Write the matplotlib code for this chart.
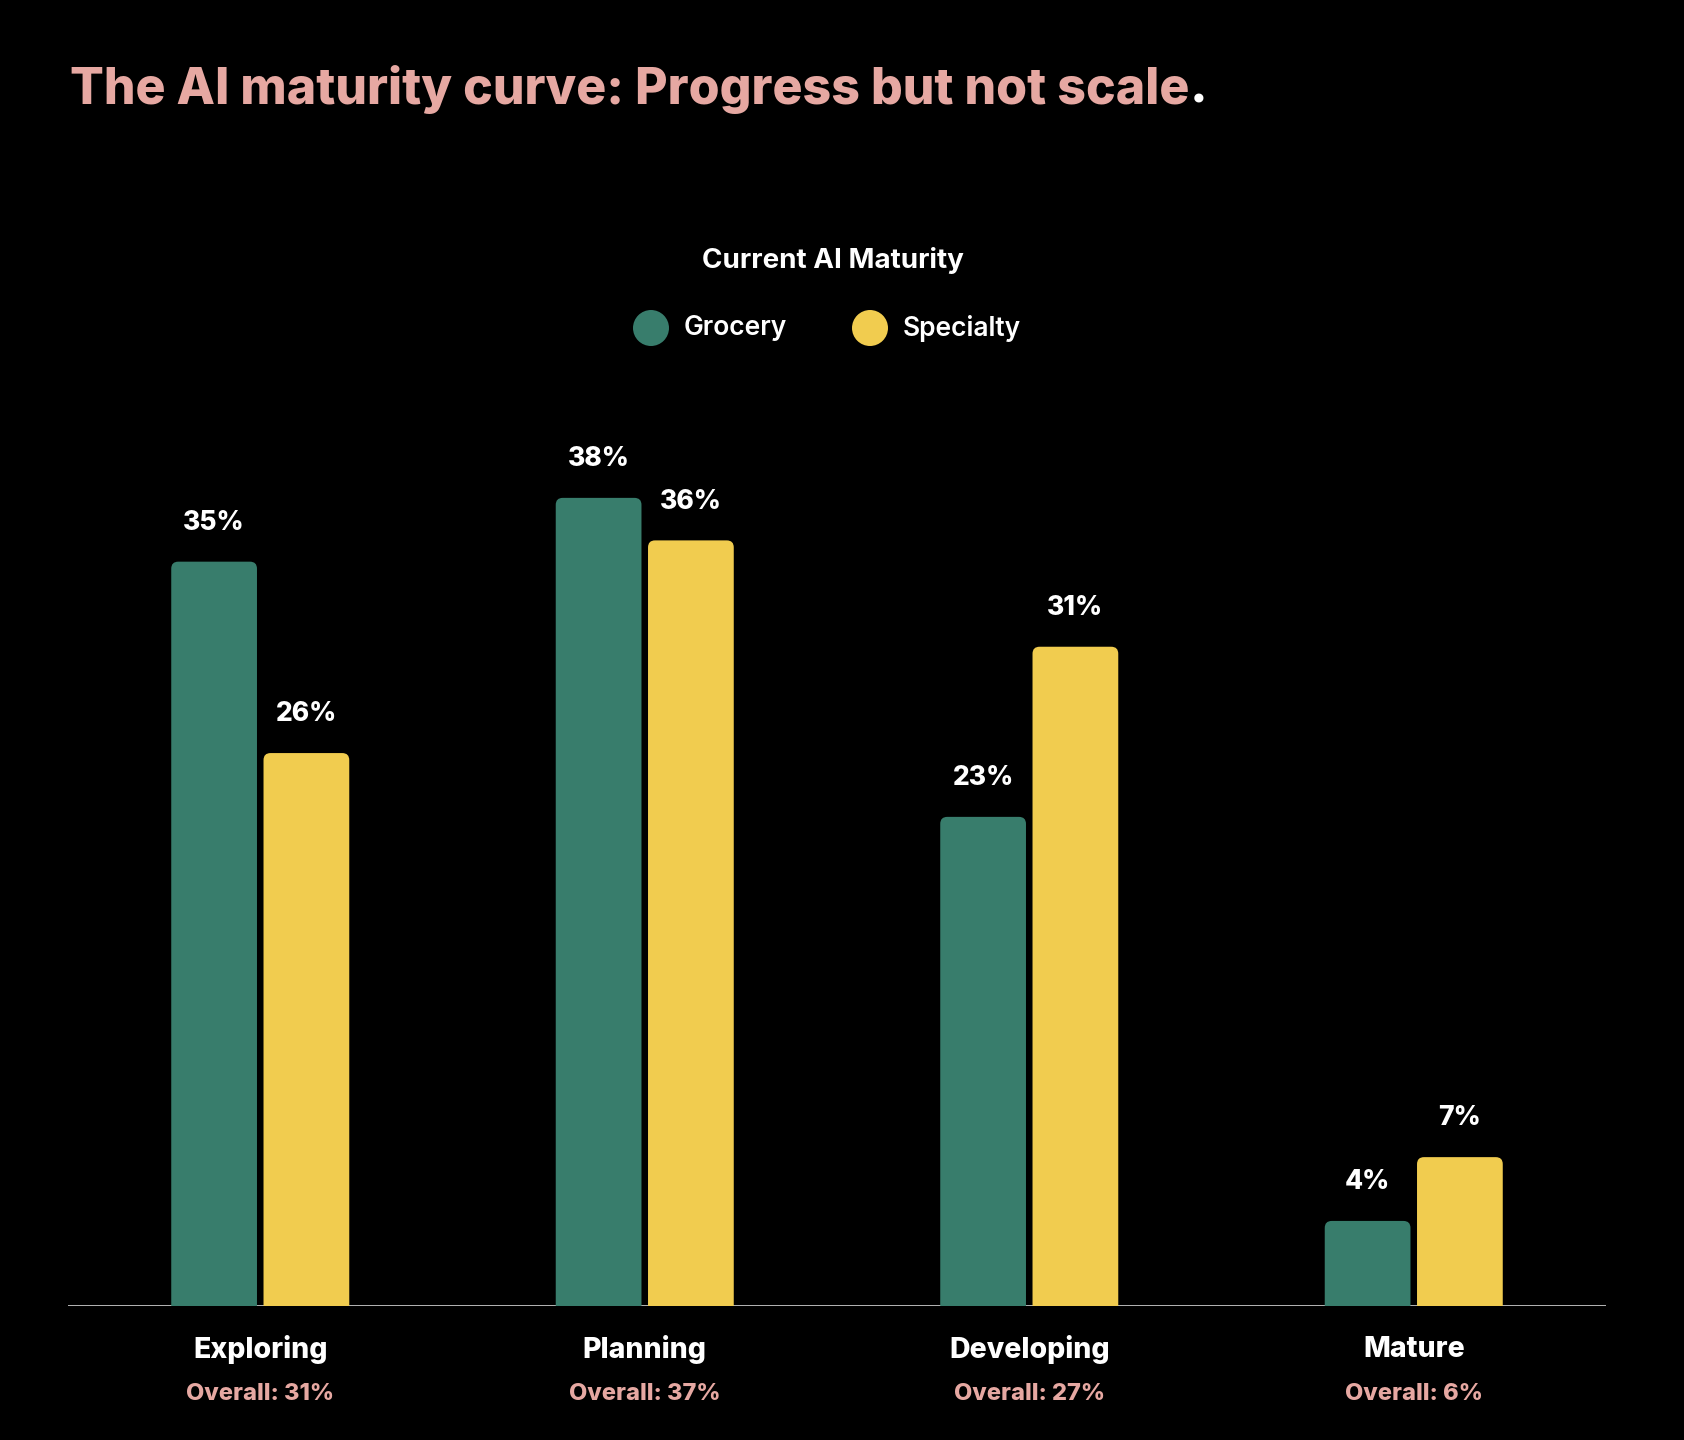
import matplotlib
matplotlib.use("Agg")
import matplotlib.pyplot as plt
from matplotlib.patches import FancyBboxPatch, Circle
import numpy as np

# Data
categories = ["Exploring", "Planning", "Developing", "Mature"]
overall = ["Overall: 31%", "Overall: 37%", "Overall: 27%", "Overall: 6%"]
grocery = [35, 38, 23, 4]
specialty = [26, 36, 31, 7]
series_names = ["Grocery", "Specialty"]

# Style
BG = "black"
GREEN = "#387D6C"
YELLOW = "#F1CC4F"
PINK = "#E6A8A2"
FONT = "Inter"

W, H = 1684, 1440
fig = plt.figure(figsize=(W / 100, H / 100), dpi=100, facecolor=BG)

# axes placed so the baseline sits where it does in the picture
ax = fig.add_axes([68 / W, 1 - 1306 / H, (1606 - 68) / W, 957 / H])
ax.set_facecolor(BG)
ax.set_xlim(-0.5, 3.5)
ax.set_ylim(0, 45)
ax.axis("off")

x = np.arange(len(categories))
width = 0.223
offset = 0.12

# pixel size of one data unit, to keep the rounded corners circular
p0 = ax.transData.transform((0, 0))
p1 = ax.transData.transform((1, 1))
px_x, px_y = p1[0] - p0[0], p1[1] - p0[1]
r_px = 7
aspect = px_x / px_y

for vals, col, dx in [(grocery, GREEN, -offset), (specialty, YELLOW, offset)]:
    for xi, v in zip(x, vals):
        left = xi + dx - width / 2
        patch = FancyBboxPatch((left, -2), width, v + 2,
                               boxstyle=f"round,pad=0,rounding_size={r_px / px_x}",
                               mutation_aspect=aspect,
                               facecolor=col, edgecolor="none", zorder=3)
        ax.add_patch(patch)
        ax.annotate(f"{v}%", (xi + dx, v), xytext=(0, 28), textcoords="offset points",
                    ha="center", va="center", color="white", fontsize=19,
                    fontweight="heavy", family=FONT, zorder=4)

ax.axhline(0, color="#ebebeb", lw=1.8, zorder=2)

# category labels under the axis
for xi, cat, ov in zip(x, categories, overall):
    ax.annotate(cat, (xi, 0), xytext=(0, -31), textcoords="offset points",
                ha="center", va="center", color="white", fontsize=20.5,
                fontweight="heavy", family=FONT)
    ax.annotate(ov, (xi, 0), xytext=(0, -63), textcoords="offset points",
                ha="center", va="center", color=PINK, fontsize=17,
                fontweight="heavy", family=FONT)

# title
t = fig.text(70 / W, 1 - 89 / H, "The AI maturity curve: Progress but not scale",
             ha="left", va="center", color=PINK, fontsize=36, fontweight="heavy",
             family=FONT)
fig.canvas.draw()
bb = t.get_window_extent()
fig.text(bb.x1 / W, 1 - 89 / H, ".", ha="left", va="center", color="white",
         fontsize=36, fontweight="heavy", family=FONT)

# legend
fig.text(833 / W, 1 - 261 / H, "Current AI Maturity", ha="center", va="center",
         color="white", fontsize=20, fontweight="bold", family=FONT)
for cx, col, name in [(651, GREEN, series_names[0]), (870, YELLOW, series_names[1])]:
    fig.patches.append(Circle((cx / 100, (H - 328) / 100), 0.18, facecolor=col,
                              edgecolor="none", transform=fig.dpi_scale_trans))
    fig.text((cx + 33) / W, 1 - 328 / H, name, ha="left", va="center",
             color="white", fontsize=19, fontweight="semibold", family=FONT)

fig.savefig("out.png", dpi=100, facecolor=BG)
